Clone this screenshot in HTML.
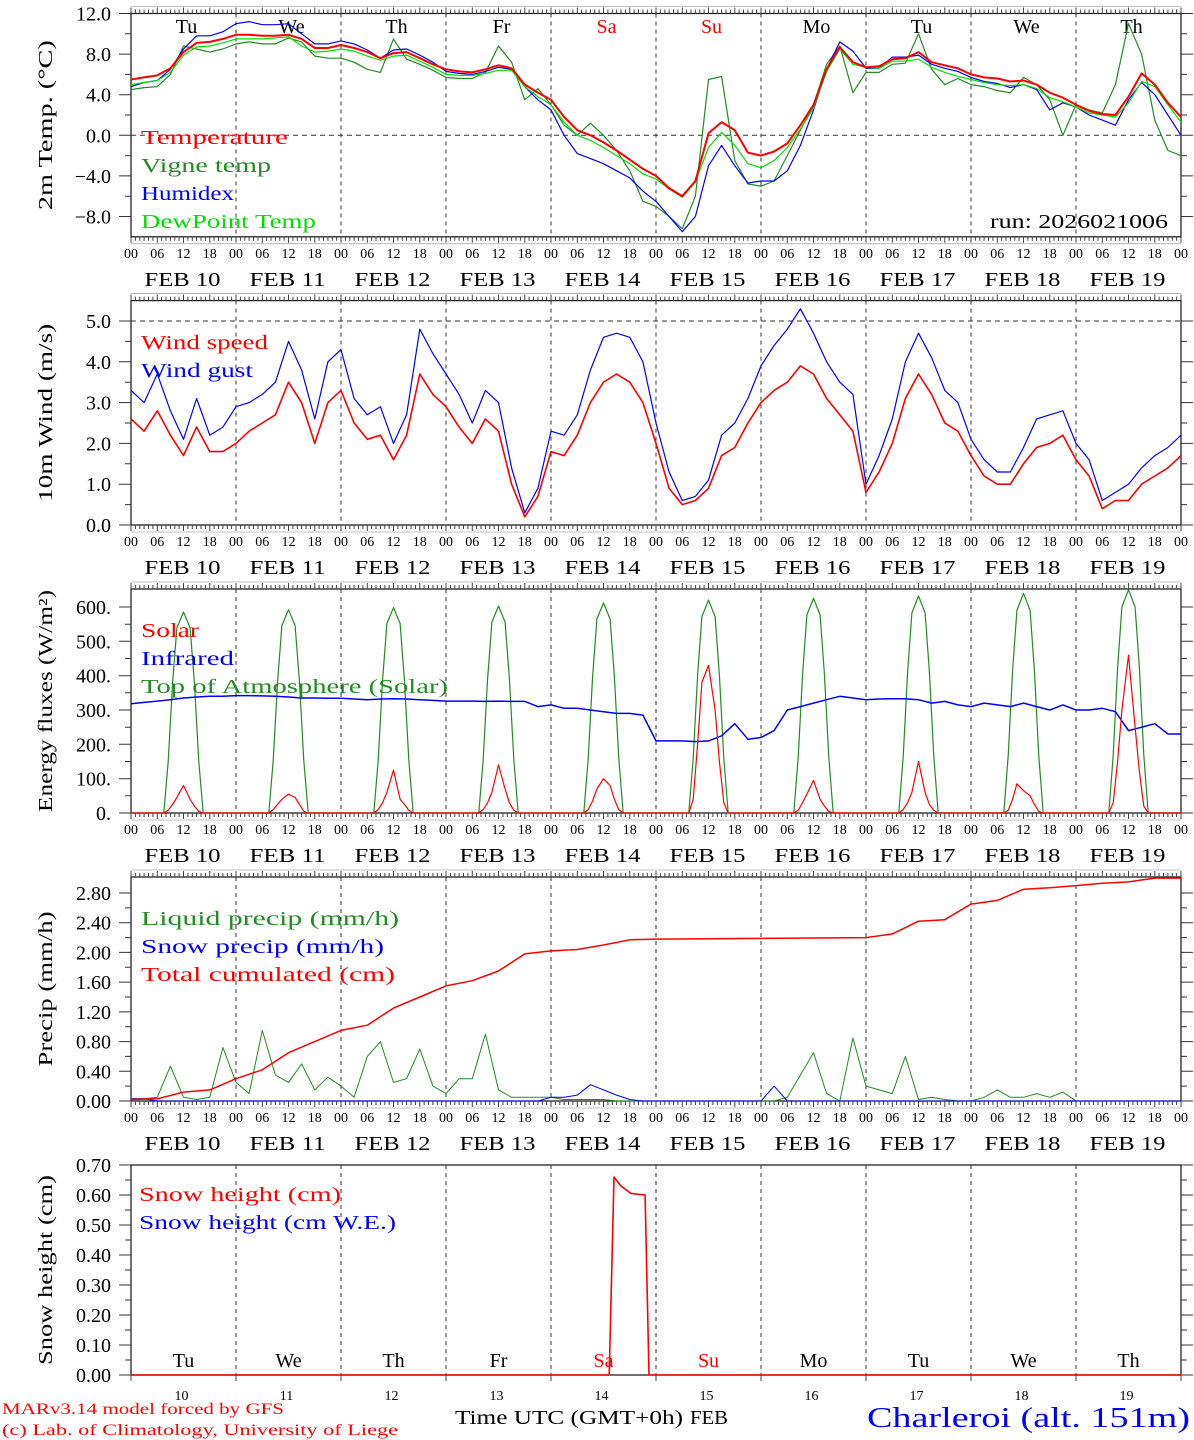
<!DOCTYPE html>
<html><head><meta charset="utf-8"><style>
html,body{margin:0;padding:0;background:#fff;}
svg{display:block;font-family:"Liberation Serif",serif;}
</style></head><body>
<svg id="chart" width="1194" height="1440" viewBox="0 0 1194 1440" xmlns="http://www.w3.org/2000/svg"></svg>
<script>
// ---- data (3-hourly, 0..240h) ----
const dayNames = ["Tu","We","Th","Fr","Sa","Su","Mo","Tu","We","Th"];
const dayNums = ["10","11","12","13","14","15","16","17","18","19"];
const temp = [5.5,5.7,5.9,6.6,8.2,9.1,9.2,9.5, 9.9,9.9,9.8,9.8,9.9,9.5,8.6,8.6, 8.9,8.6,8.2,7.6,8.1,8.2,7.6,7.0, 6.5,6.3,6.2,6.5,6.9,6.6,5.0,4.2, 3.5,1.8,0.5,0.0,-0.7,-1.5,-2.4,-3.3, -4.0,-5.2,-6.0,-4.5,0.2,1.3,0.5,-1.7, -2.0,-1.6,-0.8,1.0,3.0,6.5,8.7,7.2, 6.7,6.8,7.5,7.6,8.2,7.2,6.9,6.6, 6.0,5.7,5.6,5.3,5.4,5.0,4.2,3.7, 3.0,2.4,2.1,2.0,3.8,6.1,5.0,3.2, 1.8];
const dewp = [5.0,5.2,5.4,6.2,7.9,8.7,8.8,9.1, 9.5,9.5,9.5,9.6,9.7,8.8,8.2,8.3, 8.5,8.3,7.8,7.4,7.8,7.9,7.3,6.7, 6.0,5.9,5.9,6.1,6.4,6.4,4.8,3.8, 3.0,1.3,0.0,-0.5,-1.2,-2.0,-2.8,-3.8, -4.3,-5.3,-6.1,-4.6,-1.2,0.3,-1.0,-2.8, -3.2,-2.5,-1.2,0.6,2.7,6.3,8.5,7.0, 6.7,6.6,7.3,7.3,7.5,6.7,6.2,5.8, 5.5,5.2,5.0,4.9,5.0,4.6,3.7,3.3, 2.8,2.2,2.0,1.8,3.2,5.3,4.8,3.0, 1.3];
const humidex = [4.8,5.2,5.4,6.5,8.5,9.8,9.8,10.2, 11.0,11.2,10.9,10.9,11.0,10.0,9.0,9.0, 9.3,9.0,8.4,7.6,8.4,8.5,7.9,7.2, 6.3,6.1,6.0,6.3,6.7,6.5,4.8,3.5, 2.5,0.0,-1.8,-2.3,-2.8,-3.5,-4.2,-5.5, -6.5,-8.0,-9.5,-8.0,-3.0,-1.0,-3.0,-4.7, -4.5,-4.5,-3.5,-1.0,2.5,6.5,9.2,8.3, 6.6,6.6,7.7,7.7,7.9,7.0,6.6,6.3, 5.7,5.3,5.1,4.7,5.0,4.5,2.5,3.2, 2.8,2.0,1.5,1.0,3.5,5.2,4.0,2.0, 0.0];
const vigne = [4.5,4.7,4.8,6.0,8.8,8.5,8.2,8.5, 9.0,9.2,9.0,9.0,9.6,9.2,7.8,7.6, 7.6,7.2,6.5,6.2,9.5,7.5,7.0,6.4, 5.7,5.6,5.6,6.2,8.8,7.2,3.5,4.6, 3.0,1.0,0.0,1.2,0.0,-1.5,-3.5,-6.5, -7.0,-8.0,-9.2,-6.0,5.5,5.8,-2.5,-4.8, -5.0,-4.5,-2.0,0.5,3.0,7.0,8.8,4.2, 6.2,6.2,7.0,7.1,10.0,6.5,5.0,5.6, 5.0,4.8,4.4,4.2,5.7,5.0,3.5,0.0, 3.0,2.5,2.2,5.0,11.0,8.0,1.5,-1.5, -2.0];
const windSpeed = [2.6,2.3,2.8,2.2,1.7,2.4,1.8,1.8, 2.0,2.3,2.5,2.7,3.5,3.0,2.0,3.0, 3.3,2.5,2.1,2.2,1.6,2.2,3.7,3.2, 2.9,2.4,2.0,2.6,2.3,1.0,0.2,0.7, 1.8,1.7,2.2,3.0,3.5,3.7,3.5,3.0, 2.0,0.9,0.5,0.6,0.9,1.7,1.9,2.5, 3.0,3.3,3.5,3.9,3.7,3.1,2.7,2.3, 0.8,1.3,2.0,3.1,3.7,3.2,2.5,2.3, 1.7,1.2,1.0,1.0,1.5,1.9,2.0,2.2, 1.6,1.2,0.4,0.6,0.6,1.0,1.2,1.4, 1.7];
const windGust = [3.3,3.0,3.7,2.8,2.1,3.1,2.2,2.4, 2.9,3.0,3.2,3.5,4.5,3.8,2.6,4.0, 4.3,3.1,2.7,2.9,2.0,2.7,4.8,4.2, 3.7,3.2,2.5,3.3,3.0,1.4,0.3,0.9, 2.3,2.2,2.7,3.8,4.6,4.7,4.6,4.0, 2.5,1.3,0.6,0.7,1.1,2.2,2.5,3.1, 3.9,4.4,4.8,5.3,4.7,4.0,3.5,3.2, 1.0,1.7,2.6,4.0,4.7,4.1,3.3,3.0, 2.1,1.6,1.3,1.3,1.9,2.6,2.7,2.8, 2.0,1.6,0.6,0.8,1.0,1.4,1.7,1.9, 2.2];
const infrared = [318,322,326,330,335,338,340,340, 342,342,341,340,338,335,335,334, 334,332,330,332,333,332,330,328, 326,326,326,325,326,325,325,310, 315,305,305,300,295,290,290,285, 210,210,210,208,210,225,260,215, 220,240,300,310,320,330,340,335, 330,332,333,333,330,320,325,315, 310,320,315,310,320,310,300,315, 300,300,305,295,240,250,260,230, 230];
// daytime hours for radiation curves (within each day)
const radHours = [7.5,8.5,9.5,10.5,12,13.5,14.5,15.5,16.5];
const toaVals = [[0,150,380,540,585,540,380,150,0],[0,152,384,546,592,546,384,152,0],[0,154,388,552,598,552,388,154,0],[0,156,391,556,603,556,391,156,0],[0,158,397,565,612,565,397,158,0],[0,160,402,572,620,572,402,160,0],[0,162,405,577,625,577,405,162,0],[0,164,410,583,632,583,410,164,0],[0,166,415,590,640,590,415,166,0],[0,168,422,600,650,600,422,168,0]];
const solarVals = [[0,8,25,45,80,40,20,5,0],[0,10,25,40,55,45,25,5,0],[0,10,30,60,125,40,25,8,0],[0,10,30,60,140,70,30,8,0],[0,10,35,70,100,80,40,10,0],[0,40,200,380,430,300,150,30,0],[0,8,30,55,95,40,20,5,0],[0,10,30,60,150,60,25,8,0],[0,8,40,85,65,50,25,5,0],[0,30,150,300,460,250,120,20,0]];
const liquid = [0.03,0.03,0.05,0.47,0.05,0.02,0.05,0.72, 0.25,0.1,0.95,0.35,0.25,0.5,0.15,0.32, 0.2,0.05,0.6,0.8,0.25,0.3,0.7,0.2, 0.1,0.3,0.3,0.9,0.15,0.05,0.05,0.05, 0.05,0.02,0.02,0.02,0.02,0,0,0, 0,0,0,0,0,0,0,0, 0,0,0.05,0.35,0.65,0.1,0,0.85, 0.2,0.15,0.1,0.6,0.02,0.05,0.02,0, 0,0.05,0.15,0.05,0.05,0.1,0.05,0.12, 0,0,0,0,0,0,0,0, 0];
const snowPrecip = [0.03,0.03,0,0,0,0,0,0, 0,0,0,0,0,0,0,0, 0,0,0,0,0,0,0,0, 0,0,0,0,0,0,0,0, 0.05,0.05,0.08,0.22,0.15,0.08,0.02,0, 0,0,0,0,0,0,0,0, 0,0.2,0,0,0,0,0,0, 0,0,0,0,0,0,0,0, 0,0,0,0,0,0,0,0, 0,0,0,0,0,0,0,0, 0];
const cumHours = [0,6,12,18,24,30,36,42,48,54,60,66,72,78,84,90,96,102,108,114,120,168,174,180,186,192,198,204,210,216,222,228,234,240];
const cumVals = [0.02,0.03,0.12,0.15,0.3,0.42,0.65,0.8,0.95,1.02,1.25,1.4,1.55,1.62,1.75,1.98,2.02,2.04,2.1,2.17,2.18,2.2,2.25,2.42,2.44,2.65,2.7,2.85,2.87,2.9,2.93,2.95,3.0,3.0];
const snowHours = [0,109.3,110.4,112,114.3,117.5,118.4,240];
const snowVals = [0,0,0.66,0.63,0.605,0.6,0,0];

// ---- layout ----
const svg = document.getElementById('chart');
const NS = 'http://www.w3.org/2000/svg';
const X0 = 131, X1 = 1181, PXH = (X1 - X0) / 240;
function xh(h){ return X0 + h * PXH; }
function add(tag, attrs, name, parent){
  const el = document.createElementNS(NS, tag);
  for (const k in attrs) el.setAttribute(k, attrs[k]);
  
  
  (parent || svg).appendChild(el);
  return el;
}
function txt(x, y, s, size, fill, anchor, name, len){
  const a = {x:x, y:y, 'font-size':size, fill:fill, 'text-anchor':anchor||'start'};
  if (len) { a.textLength = len; a.lengthAdjust = 'spacingAndGlyphs'; }
  const t = add('text', a, name);
  t.textContent = s;
  return t;
}
const panels = [
  {top:13.5, y0:216.5, v0:-8, y1:13.5, v1:12, bottom:236.8},
  {top:300.6, y0:525, v0:0, y1:321, v1:5, bottom:525},
  {top:589, y0:813, v0:0, y1:607, v1:600, bottom:813},
  {top:877, y0:1101, v0:0, y1:893, v1:2.8, bottom:1101},
  {top:1165, y0:1375, v0:0, y1:1165, v1:0.7, bottom:1375}
];
function yv(p, v){ return p.y0 + (v - p.v0) * (p.y1 - p.y0) / (p.v1 - p.v0); }

function frame(p, i, hourly){
  add('rect', {x:X0, y:p.top, width:X1-X0, height:p.bottom-p.top, fill:'none', stroke:'#222', 'stroke-width':1.3}, 'plot-frame-'+(i+1));
  for (let d=1; d<10; d++) add('line', {x1:xh(d*24), x2:xh(d*24), y1:p.top, y2:p.bottom, stroke:'#333', 'stroke-dasharray':'4,4', 'stroke-width':1}, 'day-gridline');
  if (hourly){
    let pth = '';
    for (let h=0; h<=240; h++){
      const x = xh(h).toFixed(1);
      const L = (h%6===0) ? 6 : 4;
      pth += 'M'+x+' '+(p.top-L)+'V'+p.top+'M'+x+' '+p.bottom+'V'+(p.bottom+L);
    }
    add('path', {d:pth, stroke:'#444', 'stroke-width':1, fill:'none'}, 'hour-ticks');
    add('line', {x1:X0, x2:X1, y1:p.top-7, y2:p.top-7, stroke:'#888', 'stroke-width':0.6}, 'tick-band');
    add('line', {x1:X0, x2:X1, y1:p.bottom+7, y2:p.bottom+7, stroke:'#888', 'stroke-width':0.6}, 'tick-band');
    for (let d=0; d<10; d++){
      ['00','06','12','18'].forEach(function(s,k){
        txt(xh(d*24+k*6), p.bottom+21, s, 14, '#000', 'middle', 'hour-tick-label');
      });
      txt(xh(d*24+12)-1, p.bottom+49, 'FEB '+dayNums[d], 20, '#000', 'middle', 'date-label', 76);
    }
    txt(X1, p.bottom+21, '00', 14, '#000', 'middle', 'hour-tick-label');
  }
}
function yaxis(p, major, minor, fmt, title, titleLen){
  let pth = '';
  for (let v=p.v0; v<=p.v1+1e-9; v+=minor){
    const y = yv(p, v).toFixed(1);
    pth += 'M'+(X0-6)+' '+y+'H'+X0+'M'+X1+' '+y+'H'+(X1+6);
  }
  for (let v=p.v0; v<=p.v1+1e-9; v+=major){
    const y = yv(p, v).toFixed(1);
    pth += 'M'+(X0-12)+' '+y+'H'+X0+'M'+X1+' '+y+'H'+(X1+12);
    txt(111, yv(p,v)+7, fmt(v), 20, '#000', 'end', 'y-tick-label');
  }
  add('path', {d:pth, stroke:'#333', 'stroke-width':1, fill:'none'}, 'y-ticks');
  const cy = (p.top + p.bottom)/2;
  const t = txt(0, 0, title, 20, '#000', 'middle', 'y-axis-title', titleLen);
  t.setAttribute('transform', 'translate(52,'+cy+') rotate(-90)');
}
function line3(p, arr, color, w, name){
  let d = '';
  arr.forEach(function(v,i){ d += (i?'L':'M') + xh(i*3).toFixed(1) + ' ' + yv(p,v).toFixed(1); });
  add('path', {d:d, stroke:color, 'stroke-width':w, fill:'none', 'stroke-linejoin':'round'}, name);
}
function lineXY(p, hs, vs, color, w, name){
  let d = '';
  hs.forEach(function(h,i){ d += (i?'L':'M') + xh(h).toFixed(1) + ' ' + yv(p,vs[i]).toFixed(1); });
  add('path', {d:d, stroke:color, 'stroke-width':w, fill:'none', 'stroke-linejoin':'round'}, name);
}
function radLine(p, vals, color, name){
  const hs = [0], vs = [0];
  vals.forEach(function(dv, d){ radHours.forEach(function(h,k){ hs.push(d*24+h); vs.push(dv[k]); }); });
  hs.push(240); vs.push(0);
  lineXY(p, hs, vs, color, 1.2, name);
}
function f1(v){ return (Math.abs(v)<1e-9?0:v).toFixed(1).replace('-','\u2212'); }

// Panel 1
let P = panels[0];
frame(P, 0, true);
yaxis(P, 4, 2, f1, '2m Temp. (\u00B0C)', 170);
add('line', {x1:X0, x2:X1, y1:yv(P,0), y2:yv(P,0), stroke:'#333', 'stroke-dasharray':'5,4'}, 'zero-line');
dayNames.forEach(function(s,d){ txt(xh(d*24+12)+3, 33, s, 20, (s==='Sa'||s==='Su')&&d<6?'#ff0000':'#000', 'middle', 'weekday-label'); });
line3(P, vigne, '#228b22', 1.2, 'vigne-temp-line');
line3(P, humidex, '#0000ff', 1.2, 'humidex-line');
line3(P, dewp, '#00e000', 1.2, 'dewpoint-line');
line3(P, temp, '#ff0000', 2, 'temperature-line');
txt(141, 144, 'Temperature', 20, '#ff0000', 'start', 'legend-temperature', 147);
txt(141, 172, 'Vigne temp', 20, '#228b22', 'start', 'legend-vigne-temp', 130);
txt(141, 200, 'Humidex', 20, '#0000ff', 'start', 'legend-humidex', 93);
txt(141, 228, 'DewPoint Temp', 20, '#00e000', 'start', 'legend-dewpoint', 175);
txt(1168, 228, 'run: 2026021006', 20, '#000', 'end', 'run-label', 178);

// Panel 2
P = panels[1];
frame(P, 1, true);
yaxis(P, 1, 0.5, f1, '10m Wind (m/s)', 178);
add('line', {x1:X0, x2:X1, y1:yv(P,5), y2:yv(P,5), stroke:'#333', 'stroke-dasharray':'5,4'}, 'wind-5-line');
line3(P, windGust, '#0000ff', 1.2, 'wind-gust-line');
line3(P, windSpeed, '#ff0000', 1.6, 'wind-speed-line');
txt(141, 349, 'Wind speed', 20, '#ff0000', 'start', 'legend-wind-speed', 127);
txt(141, 377, 'Wind gust', 20, '#0000ff', 'start', 'legend-wind-gust', 112);

// Panel 3
P = panels[2];
frame(P, 2, true);
yaxis(P, 100, 50, function(v){ return v.toFixed(0)+'.'; }, 'Energy fluxes (W/m\u00B2)', 222);
radLine(P, toaVals, '#228b22', 'toa-solar-line');
line3(P, infrared, '#0000ff', 1.5, 'infrared-line');
radLine(P, solarVals, '#ff0000', 'solar-line');
txt(141, 637, 'Solar', 20, '#ff0000', 'start', 'legend-solar', 58);
txt(141, 665, 'Infrared', 20, '#0000ff', 'start', 'legend-infrared', 93);
txt(141, 693, 'Top of Atmosphere (Solar)', 20, '#228b22', 'start', 'legend-toa', 307);

// Panel 4
P = panels[3];
frame(P, 3, true);
yaxis(P, 0.4, 0.2, function(v){ return v.toFixed(2); }, 'Precip (mm/h)', 155);
line3(P, liquid, '#228b22', 1, 'liquid-precip-line');
line3(P, snowPrecip, '#0000ff', 1, 'snow-precip-line');
lineXY(P, cumHours, cumVals, '#ff0000', 1.5, 'cumulated-precip-line');
txt(141, 925, 'Liquid precip (mm/h)', 20, '#228b22', 'start', 'legend-liquid', 258);
txt(141, 953, 'Snow precip (mm/h)', 20, '#0000ff', 'start', 'legend-snow-precip', 243);
txt(141, 981, 'Total cumulated (cm)', 20, '#ff0000', 'start', 'legend-cumulated', 254);

// Panel 5
P = panels[4];
frame(P, 4, false);
yaxis(P, 0.1, 0.05, function(v){ return v.toFixed(2); }, 'Snow height (cm)', 190);
lineXY(P, snowHours, snowVals, '#ff0000', 1.6, 'snow-height-line');
txt(139, 1201, 'Snow height (cm)', 20, '#ff0000', 'start', 'legend-snow-height', 202);
txt(139, 1229, 'Snow height (cm W.E.)', 20, '#0000ff', 'start', 'legend-snow-we', 257);
dayNames.forEach(function(s,d){
  txt(xh(d*24+12), 1367, s, 20, (s==='Sa'||s==='Su')&&d<6?'#ff0000':'#000', 'middle', 'weekday-label-bottom');
  txt(xh(d*24+12)-2, 1400, dayNums[d], 14, '#000', 'middle', 'day-number-label');
});
let tk = '';
for (let d=0; d<=10; d++){ const x = xh(d*24).toFixed(1); tk += 'M'+x+' '+P.bottom+'V'+(P.bottom+6); }
add('path', {d:tk, stroke:'#444', fill:'none'}, 'day-ticks');

txt(455, 1424, 'Time UTC (GMT+0h)', 20, '#000', 'start', 'x-axis-title', 228);
txt(690, 1424, 'FEB', 20, '#000', 'start', 'x-axis-month', 38);
txt(1190, 1427, 'Charleroi (alt. 151m)', 28, '#0000ff', 'end', 'station-title', 323);
txt(2, 1414, 'MARv3.14 model forced by GFS', 16, '#ff0000', 'start', 'model-credit', 282);
txt(2, 1435, '(c) Lab. of Climatology, University of Liege', 16, '#ff0000', 'start', 'lab-credit', 396);
</script>
</body></html>
